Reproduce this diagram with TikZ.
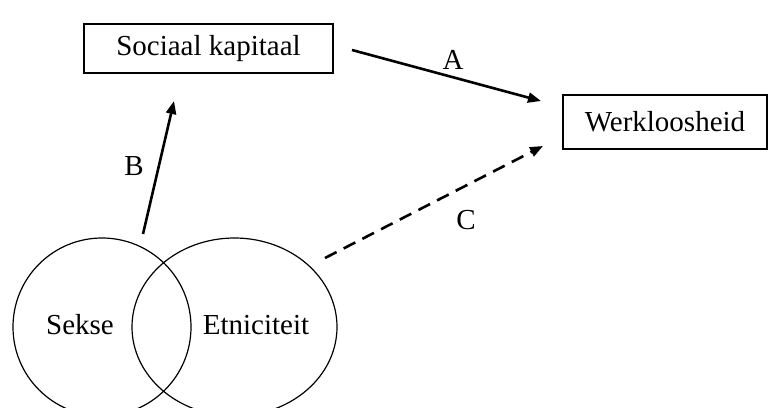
\documentclass[tikz,border=0pt]{standalone}
\usepackage{fontspec}
\setmainfont{Liberation Serif}
\usetikzlibrary{arrows.meta,shapes.geometric}
\begin{document}
\begin{tikzpicture}[x=1pt,y=-1pt,
  box/.style={draw,line width=1.3pt,inner sep=0pt,font=\fontsize{29}{34}\selectfont},
  lbl/.style={font=\fontsize{29}{34}\selectfont,inner sep=0pt},
  venn/.style={draw,ellipse,line width=1.2pt,inner sep=0pt},
  arr/.style={line width=2.6pt,-{Triangle[length=13pt,width=10pt]}},
  darr/.style={arr,dash pattern=on 13pt off 8pt}]
\useasboundingbox (0,0) rectangle (776,407);
\begin{scope}
\clip (0,0) rectangle (776,407);
\node[box,minimum width=249pt,minimum height=49pt] (soc) at (208.5,48.5) {Sociaal kapitaal};
\node[box,minimum width=204pt,minimum height=54pt] (werk) at (665,122) {Werkloosheid};
\node[venn,minimum width=178pt,minimum height=178pt] (sekse) at (102,327) {};
\node[venn,minimum width=205pt,minimum height=178pt] (etn) at (234.5,327) {};
\node[lbl] (tsekse) at (80,325) {Sekse};
\node[lbl] (tetn) at (256,325) {Etniciteit};
\coordinate (a1) at (352,50);
\coordinate (a2) at (541,101);
\coordinate (b1) at (143,234);
\coordinate (b2) at (174,101);
\coordinate (c1) at (325,258);
\coordinate (c2) at (543,146);
\draw[arr] (a1) -- (a2);
\draw[arr] (b1) -- (b2);
\draw[darr] (c1) -- (c2);
\node[lbl] (la) at (453,60) {A};
\node[lbl] (lb) at (134,166) {B};
\node[lbl] (lc) at (466,220) {C};
\end{scope}
\end{tikzpicture}
\end{document}
